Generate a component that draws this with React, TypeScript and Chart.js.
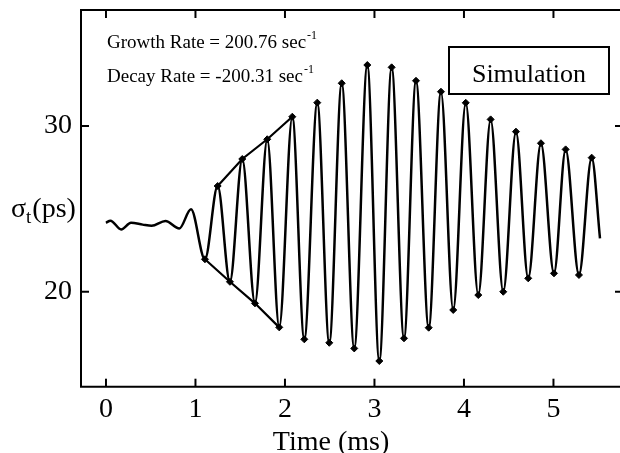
import React, { useEffect, useRef } from 'react';
import { Chart, registerables } from 'chart.js';

Chart.register(...registerables);

const FONT = "'Liberation Serif', 'Times New Roman', Times, serif";

// Axis ranges and tick values
const X_MIN = -0.279;
const X_MAX = 5.777;
const Y_MIN = 14.27;
const Y_MAX = 37.0;
const xTicks = [0, 1, 2, 3, 4, 5];
const yTicks = [20, 30];

// Pre-instability wiggle (time in ms, sigma_t in ps)
const preTimes = [0, 0.05, 0.17, 0.28, 0.41, 0.51, 0.665, 0.82, 0.95];
const preValues = [24.16, 24.29, 23.76, 24.16, 24.05, 23.98, 24.27, 23.82, 24.97];

// Oscillation minima (marked)
const troughTimes = [1.106, 1.385, 1.665, 1.936, 2.216, 2.495, 2.774, 3.054, 3.33, 3.606, 3.88, 4.16, 4.439, 4.718, 5.006, 5.285];
const troughValues = [21.96, 20.6, 19.3, 17.85, 17.13, 16.92, 16.58, 15.82, 17.19, 17.83, 18.9, 19.8, 20.0, 20.81, 21.11, 21.01];

// Oscillation maxima (marked)
const peakTimes = [1.248, 1.523, 1.802, 2.082, 2.361, 2.634, 2.92, 3.192, 3.464, 3.743, 4.02, 4.298, 4.581, 4.86, 5.136, 5.427];
const peakValues = [26.38, 28.01, 29.2, 30.56, 31.41, 32.58, 33.68, 33.54, 32.73, 32.07, 31.4, 30.4, 29.66, 28.96, 28.59, 28.09];

// Final sample
const endTimes = [5.52];
const endValues = [23.22];

// Envelope fits span the first four maxima / minima
const ENVELOPE_COUNT = 4;

const growthText = 'Growth Rate = 200.76 sec';
const decayText = 'Decay Rate = -200.31 sec';
const supText = '-1';
const legendText = 'Simulation';
const xTitle = 'Time (ms)';

function pts(t: number[], v: number[]) {
  return t.map((x, i) => ({ x, y: v[i] }));
}

const curve = [
  ...pts(preTimes, preValues),
  ...pts(troughTimes, troughValues),
  ...pts(peakTimes, peakValues),
  ...pts(endTimes, endValues),
].sort((a, b) => a.x - b.x);

const markers = [...pts(troughTimes, troughValues), ...pts(peakTimes, peakValues)];
const upperEnv = pts(peakTimes.slice(0, ENVELOPE_COUNT), peakValues.slice(0, ENVELOPE_COUNT));
const lowerEnv = pts(troughTimes.slice(0, ENVELOPE_COUNT), troughValues.slice(0, ENVELOPE_COUNT));

const framePlugin = {
  id: 'frame',
  afterDatasetsDraw(chart: any) {
    const { ctx, chartArea: a, scales } = chart;
    const xs = scales.x;
    const ys = scales.y;
    ctx.save();
    ctx.strokeStyle = '#000';
    ctx.fillStyle = '#000';
    ctx.lineWidth = 2;
    ctx.beginPath();
    ctx.moveTo(a.left, a.top);
    ctx.lineTo(a.right, a.top);
    ctx.lineTo(a.right, a.bottom);
    ctx.lineTo(a.left, a.bottom);
    ctx.closePath();
    ctx.stroke();
    const L = 8;
    const seg = (x1: number, y1: number, x2: number, y2: number) => {
      ctx.beginPath();
      ctx.moveTo(x1, y1);
      ctx.lineTo(x2, y2);
      ctx.stroke();
    };
    xTicks.forEach((v) => {
      const p = xs.getPixelForValue(v);
      seg(p, a.bottom, p, a.bottom - L);
      seg(p, a.top, p, a.top + L);
    });
    yTicks.forEach((v) => {
      const p = ys.getPixelForValue(v);
      seg(a.left, p, a.left + L, p);
      seg(a.right, p, a.right - L, p);
    });

    // Rate annotations
    ctx.textAlign = 'left';
    ctx.textBaseline = 'alphabetic';
    const drawRate = (txt: string, x: number, y: number) => {
      ctx.font = `19px ${FONT}`;
      ctx.fillText(txt, x, y);
      const w = ctx.measureText(txt).width;
      ctx.font = `12px ${FONT}`;
      ctx.fillText(supText, x + w + 1, y - 9);
    };
    drawRate(growthText, 107, 48);
    drawRate(decayText, 107, 81.5);

    // Legend box
    ctx.lineWidth = 2;
    ctx.strokeRect(449, 47, 160, 47);
    ctx.font = `26px ${FONT}`;
    ctx.textAlign = 'center';
    ctx.fillText(legendText, 529, 81.5);

    // Axis titles
    ctx.font = `28px ${FONT}`;
    ctx.textAlign = 'center';
    ctx.fillText(xTitle, 331, 450);
    ctx.textAlign = 'left';
    ctx.fillText('σ', 11, 216.5);
    const sw = ctx.measureText('σ').width;
    ctx.font = `19px ${FONT}`;
    ctx.fillText('t', 11 + sw, 223);
    const tw = ctx.measureText('t').width;
    ctx.font = `28px ${FONT}`;
    ctx.fillText('(ps)', 11 + sw + tw + 1, 216.5);
    ctx.restore();
  },
};

export default function App() {
  const ref = useRef<HTMLCanvasElement | null>(null);
  useEffect(() => {
    if (!ref.current) return;
    const chart = new Chart(ref.current, {
      type: 'line',
      data: {
        datasets: [
          {
            data: curve,
            borderColor: '#000',
            borderWidth: 2.5,
            pointRadius: 0,
            cubicInterpolationMode: 'monotone',
            fill: false,
          },
          {
            data: upperEnv,
            borderColor: '#000',
            borderWidth: 2.2,
            pointRadius: 0,
            tension: 0,
            fill: false,
          },
          {
            data: lowerEnv,
            borderColor: '#000',
            borderWidth: 2.2,
            pointRadius: 0,
            tension: 0,
            fill: false,
          },
          {
            data: markers,
            showLine: false,
            pointStyle: 'rectRot',
            pointRadius: 3.5,
            pointBackgroundColor: '#000',
            pointBorderColor: '#000',
            pointBorderWidth: 1,
          },
        ],
      },
      options: {
        animation: false,
        responsive: false,
        events: [],
        layout: { padding: { left: 0, top: 10, right: 27, bottom: 0 } },
        plugins: { legend: { display: false }, tooltip: { enabled: false } },
        scales: {
          x: {
            type: 'linear',
            min: X_MIN,
            max: X_MAX,
            grid: { display: false, drawTicks: false },
            border: { display: false },
            afterFit: (s: any) => {
              s.height = 66.3;
              s.paddingLeft = 0;
              s.paddingRight = 0;
              s.paddingTop = 0;
              s.paddingBottom = 0;
            },
            afterBuildTicks: (s: any) => {
              s.ticks = xTicks.map((value) => ({ value }));
            },
            ticks: {
              padding: 6,
              color: '#000',
              font: { family: FONT, size: 28 },
              maxRotation: 0,
              autoSkip: false,
            },
          },
          y: {
            type: 'linear',
            min: Y_MIN,
            max: Y_MAX,
            grid: { display: false, drawTicks: false },
            border: { display: false },
            afterFit: (s: any) => {
              s.width = 81;
              s.paddingLeft = 0;
              s.paddingRight = 0;
              s.paddingTop = 0;
              s.paddingBottom = 0;
            },
            afterBuildTicks: (s: any) => {
              s.ticks = yTicks.map((value) => ({ value }));
            },
            ticks: {
              padding: 9,
              color: '#000',
              font: { family: FONT, size: 28 },
              autoSkip: false,
            },
          },
        },
      },
      plugins: [framePlugin],
    } as any);
    return () => chart.destroy();
  }, []);
  return (
    <div
      style={{
        position: 'fixed',
        left: 0,
        top: 0,
        width: 620,
        height: 453,
        overflow: 'hidden',
        background: '#fff',
      }}
    >
      <canvas ref={ref} width={650} height={453} style={{ width: 650, height: 453, display: 'block' }} />
    </div>
  );
}
